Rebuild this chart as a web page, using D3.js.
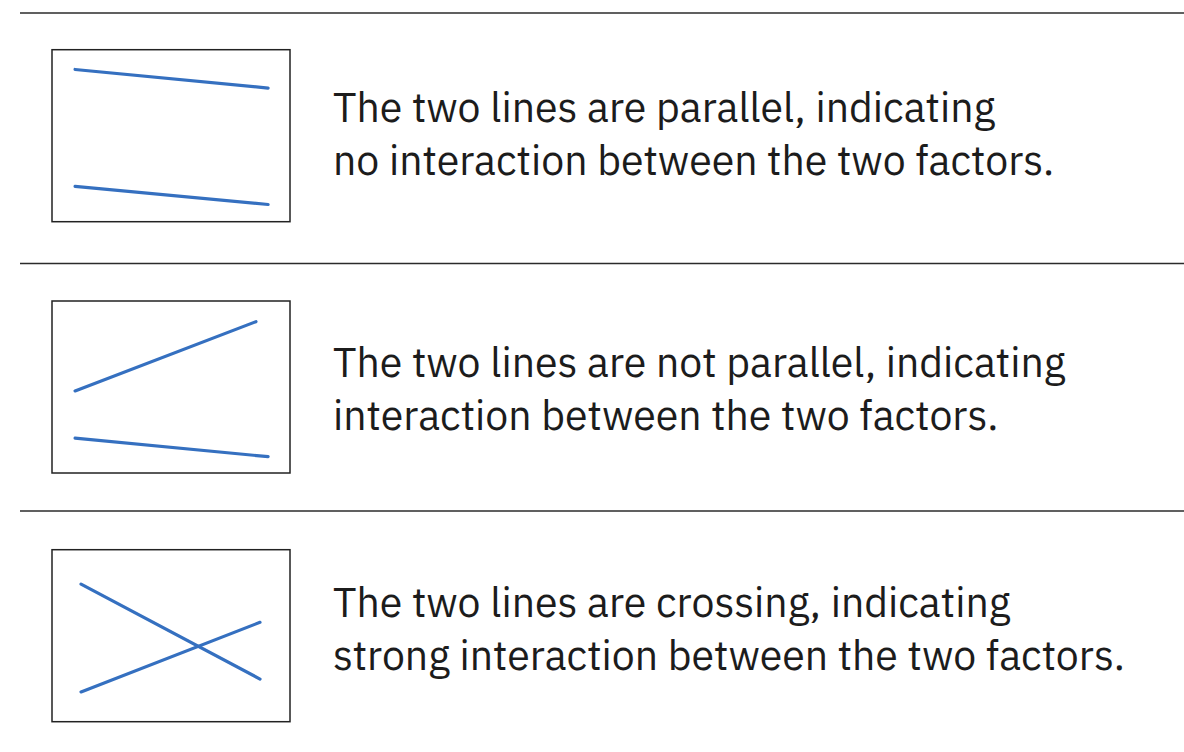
<!DOCTYPE html>
<html>
<head>
<meta charset="utf-8">
<script src="https://cdn.jsdelivr.net/npm/d3@7"></script>
<style>
  html, body { margin: 0; padding: 0; background: #fff; }
  svg { display: block; }
</style>
</head>
<body>
<svg id="chart" width="1184" height="752"></svg>
<script>
// ---- data ----
const panels = ["parallel", "not parallel", "crossing"];
const textLines = [
  ["The two lines are parallel, indicating", "no interaction between the two factors."],
  ["The two lines are not parallel, indicating", "interaction between the two factors."],
  ["The two lines are crossing, indicating", "strong interaction between the two factors."]
];
// each line: [x1, y1, x2, y2] in mini-chart value units (0-10)
const lineA = [[0.97, 8.85, 9.08, 7.77], [0.97, 4.77, 8.57, 8.80], [1.22, 8.00, 8.74, 2.48]];
const lineB = [[0.97, 2.05, 9.08, 1.00], [0.97, 2.03, 9.08, 0.95], [1.22, 1.73, 8.74, 5.78]];

// ---- layout ----
const svg = d3.select("#chart");
const rowTops = [13, 263.5, 511];
const boxOffsets = [36.7, 37.5, 38.7];
const textBaselineOffsets = [109.3, 113, 106.3];
const boxX0 = 52, boxW = 238, boxH = 172;
const lineColor = "#3570c0";

panels.forEach((p, i) => {
  const top = rowTops[i];
  svg.append("line")
    .attr("x1", 20).attr("x2", 1184)
    .attr("y1", top).attr("y2", top)
    .attr("stroke", "#2b2b2b").attr("stroke-width", 1.6);

  const by = top + boxOffsets[i];
  const x = d3.scaleLinear().domain([0, 10]).range([boxX0, boxX0 + boxW]);
  const y = d3.scaleLinear().domain([0, 10]).range([by + boxH, by]);

  svg.append("rect")
    .attr("x", x(0)).attr("y", y(10))
    .attr("width", x(10) - x(0)).attr("height", y(0) - y(10))
    .attr("fill", "none").attr("stroke", "#222").attr("stroke-width", 1.5);

  [lineA[i], lineB[i]].forEach(l => {
    svg.append("line")
      .attr("x1", x(l[0])).attr("y1", y(l[1]))
      .attr("x2", x(l[2])).attr("y2", y(l[3]))
      .attr("stroke", lineColor).attr("stroke-width", 3.2)
      .attr("stroke-linecap", "round");
  });

  const tb = top + textBaselineOffsets[i];
  textLines[i].forEach((t, j) => {
    svg.append("text")
      .attr("x", 333).attr("y", tb + j * 53)
      .attr("font-family", "'IBM Plex Sans', 'Noto Sans', sans-serif")
      .attr("font-size", 41)
      .attr("fill", "#1c1c1c")
      .text(t);
  });
});
</script>
</body>
</html>
